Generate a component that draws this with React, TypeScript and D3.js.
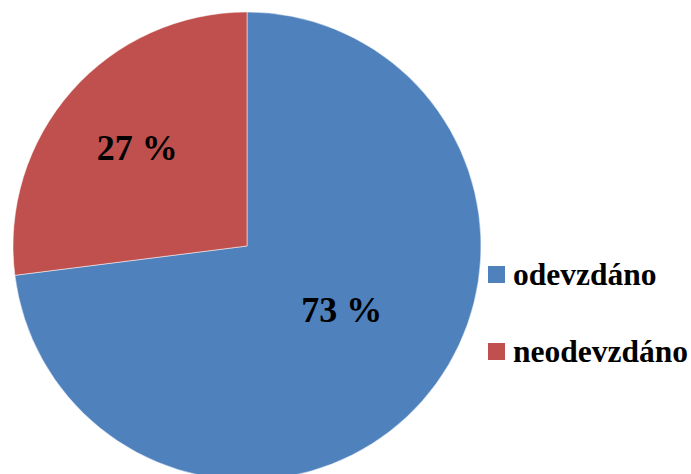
import React from "react";
import { pie, arc, PieArcDatum } from "d3";

// data
const categories = ["odevzdáno", "neodevzdáno"];
const values = [73, 27];
const labels = ["73 %", "27 %"];
const colors = ["#4F81BD", "#C0504D"];

type Slice = { name: string; value: number; label: string; color: string };

const width = 691;
const height = 474;
const cx = 247;
const cy = 246;
const radius = 234;

const slices: Slice[] = categories.map((c, i) => ({
  name: c,
  value: values[i],
  label: labels[i],
  color: colors[i],
}));

const App = () => {
  const pieGen = pie<Slice>()
    .value((d) => d.value)
    .sort(null);
  const arcs = pieGen(slices);

  const arcGen = arc<PieArcDatum<Slice>>().innerRadius(0).outerRadius(radius);

  // label placement (fraction of radius, and angle shift in radians)
  const labelPos = (d: PieArcDatum<Slice>, i: number) => {
    const mid = (d.startAngle + d.endAngle) / 2 + (i === 0 ? -0.125 : 0);
    const r = radius * (i === 0 ? 0.49 : 0.625);
    return [Math.sin(mid) * r, -Math.cos(mid) * r];
  };

  return (
    <svg
      width={width}
      height={height}
      style={{ position: "absolute", left: 0, top: 0, background: "#fff" }}
      fontFamily="'Liberation Serif', 'Times New Roman', serif"
      fontWeight="bold"
    >
      <g transform={`translate(${cx},${cy})`}>
        {arcs.map((d, i) => (
          <path
            key={i}
            d={arcGen(d) || ""}
            fill={d.data.color}
            stroke="#fff"
            strokeWidth={0.5}
          />
        ))}
        {arcs.map((d, i) => {
          const [x, y] = labelPos(d, i);
          return (
            <text
              key={"l" + i}
              x={x}
              y={y + 11}
              textAnchor="middle"
              fontSize={36}
              fill="#000"
            >
              {d.data.label}
            </text>
          );
        })}
      </g>
      <g transform="translate(488,266)">
        {slices.map((s, i) => (
          <g key={s.name} transform={`translate(0,${i * 77})`}>
            <rect width={17} height={17} fill={s.color} />
            <text x={25} y={19} fontSize={31.5} fill="#000">
              {s.name}
            </text>
          </g>
        ))}
      </g>
    </svg>
  );
};

export default App;
